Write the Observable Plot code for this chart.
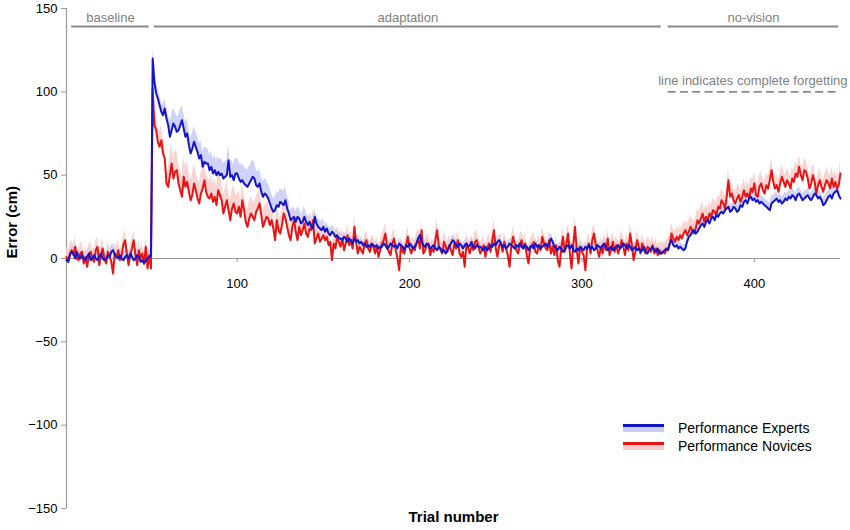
<!DOCTYPE html>
<html>
<head>
<meta charset="utf-8">
<script src="https://cdn.jsdelivr.net/npm/d3@7"></script>
<script src="https://cdn.jsdelivr.net/npm/@observablehq/plot@0.6"></script>
<style>
  body { margin: 0; background: #fff; font-family: "Liberation Sans", Arial, Helvetica, sans-serif; }
  #wrap { position: relative; width: 850px; height: 530px; }
  .lg { position: absolute; }
  .lgtext { position: absolute; font-size: 14px; color: #000; line-height: 20px; white-space: nowrap; }
</style>
</head>
<body>
<div id="wrap"></div>
<script>
// ---- data ----
const experts = [
  -1, -2, 2, 4, 3, 0, 4, 1, 0, 2,
  0, -1, 1, 3, -1, 0, 2, 0, -1, 1,
  3, 0, -1, 0, 2, 1, 4, 5, 2, 1,
  0, 2, 0, -1, 1, 2, 0, 3, 1, -1,
  0, 2, 1, -2, -1, -3, -1, 0, 1, 2,
  120, 106, 99, 96, 92, 88, 86, 90, 84, 80,
  73, 77, 81, 79, 76, 77, 80, 83, 78, 73,
  75, 68, 63, 66, 70, 67, 64, 60, 62, 55,
  58, 57, 57, 53, 55, 51, 53, 50, 52, 50,
  51, 48, 49, 50, 59, 49, 50, 47, 51, 51,
  48, 46, 47, 45, 44, 43, 45, 47, 49, 48,
  44, 43, 45, 40, 37, 39, 38, 36, 33, 30,
  28, 29, 32, 31, 34, 33, 32, 35, 30, 27,
  23, 24, 25, 22, 25, 24, 21, 22, 25, 22,
  20, 22, 19, 18, 25, 21, 19, 18, 17, 19,
  16, 18, 15, 14, 16, 15, 13, 14, 12, 12,
  11, 13, 12, 10, 12, 11, 9, 12, 10, 11,
  9, 10, 8, 9, 7, 8, 7, 9, 8, 7,
  8, 6, 7, 7, 9, 8, 6, 7, 9, 8,
  7, 8, 6, 9, 8, 7, 5, 8, 7, 9,
  8, 6, 7, 9, 12, 14, 10, 8, 7, 9,
  8, 6, 7, 8, 6, 5, 7, 6, 4, 5,
  3, 5, 7, 9, 11, 10, 8, 7, 9, 8,
  6, 8, 9, 7, 8, 10, 7, 6, 8, 7,
  7, 6, 5, 7, 5, 6, 8, 7, 9, 8,
  10, 11, 9, 7, 8, 6, 7, 9, 8, 7,
  6, 8, 7, 9, 7, 6, 8, 7, 5, 7,
  8, 6, 9, 7, 8, 6, 7, 8, 9, 7,
  9, 12, 10, 7, 6, 5, 7, 6, 4, 5,
  7, 8, 6, 8, 5, 4, 6, 5, 7, 6,
  5, 7, 6, 8, 6, 7, 5, 6, 8, 7,
  6, 8, 9, 7, 5, 6, 7, 5, 6, 7,
  8, 6, 7, 9, 8, 6, 8, 7, 5, 6,
  7, 5, 6, 4, 5, 7, 4, 3, 5, 6,
  7, 5, 4, 6, 3, 3, 4, 5, 6, 5,
  9, 11, 8, 7, 8, 6, 7, 6, 5, 6,
  10, 13, 14, 16, 17, 15, 16, 18, 20, 21,
  19, 22, 23, 21, 24, 25, 23, 26, 25, 27,
  28, 27, 29, 30, 31, 28, 29, 31, 30, 28,
  29, 32, 31, 34, 35, 33, 36, 37, 35, 36,
  34, 35, 33, 34, 33, 32, 31, 30, 29, 33,
  34, 35, 36, 34, 35, 33, 34, 36, 35, 37,
  36, 38, 37, 35, 38, 39, 37, 35, 36, 37,
  38, 36, 35, 37, 39, 38, 36, 37, 35, 32,
  33, 35, 37, 38, 36, 39, 40, 41, 38, 36
];

const novices = [
  1, -2, 3, 5, 2, 7, 0, -1, 3, 4,
  -3, 1, -5, 2, 4, 0, -2, 5, 7, -4,
  2, 6, 0, -3, 4, 1, -2, -9, 3, 1,
  5, -1, 2, 8, 11, 3, -4, 2, 6, 11,
  2, -4, 5, 0, 3, -3, 7, -6, 2, -6,
  102, 80, 77, 70, 67, 71, 63, 60, 45, 43,
  50, 57, 48, 52, 53, 45, 41, 37, 49, 43,
  46, 40, 35, 38, 45, 41, 36, 33, 39, 42,
  47, 40, 37, 36, 39, 34, 37, 32, 41, 38,
  35, 27, 31, 35, 29, 23, 30, 33, 28, 27,
  31, 25, 35, 29, 22, 19, 24, 27, 25, 23,
  28, 30, 33, 26, 19, 22, 25, 24, 20, 23,
  18, 11, 23, 17, 15, 20, 27, 24, 19, 14,
  11, 19, 23, 16, 11, 19, 14, 17, 21, 15,
  13, 18, 17, 23, 9, 12, 15, 10, 12, 14,
  11, 13, 8, 10, -1, 9, 6, 13, 10, 7,
  12, 5, 9, 14, 8, 11, 6, 19, 10, 3,
  7, 5, 3, 9, 11, 6, 4, 8, 7, 3,
  7, 1, 5, 9, 11, 15, 7, 4, 2, 9,
  12, 5, 0, -7, 7, 4, 3, 8, 13, 6,
  3, 7, 5, 9, 12, 6, 17, 3, 5, 8,
  9, 2, 6, 4, 11, 17, 7, 5, 3, 10,
  7, 4, 8, 5, 2, 9, 6, 11, 3, 1,
  4, -5, 9, 6, 3, 8, 5, 10, 11, 7,
  3, 5, 8, 1, 6, 9, 4, 11, 17, 6,
  1, 8, 9, 4, 10, 6, 2, -5, 7, 13,
  9, 5, 3, 8, 11, 6, 9, 2, -3, 6,
  7, 10, 4, 3, 8, 5, 13, 9, 6, 5,
  11, 3, 7, 2, 8, -1, -5, 6, 13, 4,
  9, 15, 3, -6, 8, 19, 5, -3, 7, 4,
  2, -7, 6, 9, 3, 11, 15, 8, 5, 1,
  7, 3, 9, 5, 12, 2, 6, 10, 4, 8,
  3, 6, 11, 7, 2, 9, 5, 15, 8, -1,
  4, 11, 7, 3, 9, 5, 3, 7, 6, 4,
  8, 3, 6, 2, 5, 3, 4, 3, 5, 6,
  9, 15, 12, 10, 13, 11, 14, 12, 15, 17,
  14, 16, 19, 17, 15, 18, 23, 21, 24, 27,
  22, 25, 23, 27, 25, 29, 28, 26, 31, 30,
  35, 33, 30, 37, 47, 37, 39, 35, 33, 36,
  38, 34, 37, 41, 37, 39, 36, 42, 40, 45,
  38, 37, 43, 45, 41, 39, 44, 42, 47, 53,
  46, 42, 44, 40, 45, 49, 46, 43, 47, 45,
  42, 48, 46, 51, 49, 55, 50, 47, 53, 52,
  48, 42, 45, 50, 46, 39, 44, 47, 43, 40,
  44, 47, 45, 42, 48, 43, 46, 42, 44, 51
];

// shaded band height, one value per block of 10 trials
const seExperts = [4,4,4,4,4, 6,9,9,9,9, 10,9,8,6,5, 4,3,3,3,3, 3,3,3,3,3, 3,3,3,3,3, 3,3,3,3,3, 3,4,4,4,4, 4,4,4,4,4];
const seNovices = [6,6,6,6,6, 9,12,12,11,11, 10,9,9,8,7, 6,6,6,6,6, 6,6,6,6,6, 6,6,6,6,6, 6,6,6,6,6, 6,7,7,7,7, 7,7,7,7,7];

const groups = ["Performance Experts", "Performance Novices"];
const phaseNames = ["baseline", "adaptation", "no-vision"];
const phaseStart = [4, 52, 350];
const phaseEnd = [49, 346, 449];
const forgettingLevel = 100;
const forgettingLabel = "line indicates complete forgetting";
const xTicks = [100, 200, 300, 400];
const yTicks = [-150, -100, -50, 0, 50, 100, 150];

// ---- build table ----
const rows = [];
experts.forEach((v, i) => rows.push({trial: i + 1, group: groups[0], value: v, se: seExperts[Math.floor(i / 10)]}));
novices.forEach((v, i) => rows.push({trial: i + 1, group: groups[1], value: v, se: seNovices[Math.floor(i / 10)]}));
const expRows = rows.filter(d => d.group === groups[0]);
const novRows = rows.filter(d => d.group === groups[1]);
const phases = phaseNames.map((n, i) => ({name: n, x1: phaseStart[i], x2: phaseEnd[i], mid: (phaseStart[i] + phaseEnd[i]) / 2}));

const blue = "#1414c8", red = "#e61414", blueBand = "#c9cef6", redBand = "#f6cbc8";
const grey = "#9a9a9a";

const chart = Plot.plot({
  width: 850,
  height: 530,
  marginTop: 8,
  marginBottom: 22,
  marginLeft: 66,
  marginRight: 10,
  x: {domain: [1, 450], axis: null},
  y: {domain: [-150, 150], axis: null},
  style: {fontFamily: '"Liberation Sans", Arial, Helvetica, sans-serif', fontSize: "13px", background: "#fff"},
  marks: [
    Plot.ruleY([0], {stroke: grey, strokeWidth: 1.2}),
    Plot.ruleX([1], {y1: -150, y2: 150, stroke: grey, strokeWidth: 1.2}),
    Plot.axisY({ticks: yTicks, tickSize: 5, tickPadding: 4, stroke: grey, fill: "#000", label: null, fontSize: 13}),
    Plot.ruleX(xTicks, {x: d => d, y1: 0, y2: -2.5, stroke: grey}),
    Plot.text(xTicks, {x: d => d, y: 0, dy: 25, text: d => String(d), fontSize: 13, fill: "#000"}),
    // bands
    Plot.areaY(expRows, {x: "trial", y1: "value", y2: d => d.value + d.se, fill: blueBand, fillOpacity: 0.9}),
    Plot.areaY(novRows, {x: "trial", y1: "value", y2: d => d.value + d.se, fill: redBand, fillOpacity: 0.8}),
    // lines
    Plot.line(novRows, {x: "trial", y: "value", stroke: red, strokeWidth: 2}),
    Plot.line(expRows, {x: "trial", y: "value", stroke: blue, strokeWidth: 2}),
    // phase bars
    Plot.ruleY(phases, {y: 150, dy: 18, x1: "x1", x2: "x2", stroke: "#8a8a8a", strokeWidth: 1.8}),
    Plot.text(phases, {x: "mid", y: 150, dy: 9, text: "name", fill: "#808080", fontSize: 13}),
    // forgetting line
    Plot.ruleY([forgettingLevel], {x1: phaseStart[2], x2: phaseEnd[2], stroke: "#8a8a8a", strokeWidth: 1.6, strokeDasharray: "8,4.3"}),
    Plot.text([forgettingLabel], {x: 450, y: forgettingLevel, dy: -11, dx: 7, textAnchor: "end", text: d => d, fill: "#808080", fontSize: 13}),
    // axis titles
    Plot.text(["Error (cm)"], {frameAnchor: "left", dx: -54, rotate: -90, text: d => d, fontWeight: "bold", fontSize: 15, fill: "#000"}),
    Plot.text(["Trial number"], {frameAnchor: "bottom", dy: 13, text: d => d, fontWeight: "bold", fontSize: 15, fill: "#000"})
  ]
});
const wrap = document.getElementById("wrap");
wrap.appendChild(chart);

// legend overlay
const legendItems = [
  {label: groups[0], line: blue, band: blueBand, top: 418},
  {label: groups[1], line: red, band: redBand, top: 436}
];
legendItems.forEach(it => {
  const band = document.createElement("div");
  band.className = "lg";
  Object.assign(band.style, {left: "623px", top: (it.top + 9) + "px", width: "41px", height: "5px", background: it.band});
  const ln = document.createElement("div");
  ln.className = "lg";
  Object.assign(ln.style, {left: "623px", top: (it.top + 6) + "px", width: "41px", height: "2.5px", background: it.line});
  const tx = document.createElement("div");
  tx.className = "lgtext";
  Object.assign(tx.style, {left: "678px", top: it.top + "px"});
  tx.textContent = it.label;
  wrap.appendChild(band); wrap.appendChild(ln); wrap.appendChild(tx);
});
</script>
</body>
</html>
